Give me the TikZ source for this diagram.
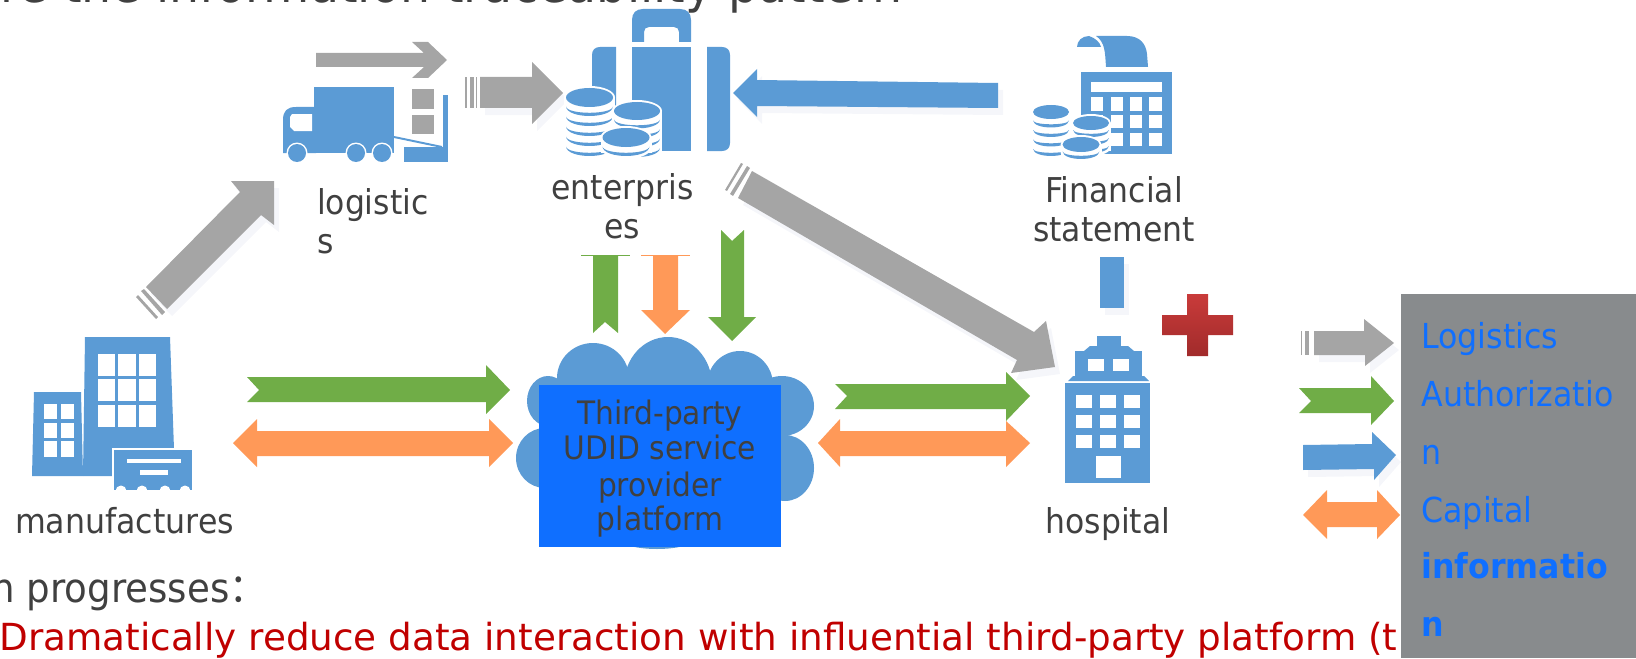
\documentclass[tikz,border=0pt]{standalone}
\usepackage{fontspec}
\setmainfont[FakeStretch=0.92]{DejaVu Sans}
\newfontfamily\plainface{DejaVu Sans}
\newfontfamily\cjkface[FakeStretch=0.92]{Noto Sans CJK SC}
\definecolor{iconblue}{HTML}{5B9BD5}
\definecolor{arrgrey}{HTML}{A5A5A5}
\definecolor{arrgreen}{HTML}{70AD47}
\definecolor{arrorange}{HTML}{FF9958}
\definecolor{boxblue}{HTML}{0F6FFF}
\definecolor{panelgrey}{HTML}{888B8D}
\definecolor{txtgrey}{HTML}{404040}
\definecolor{txtred}{HTML}{C00000}
\definecolor{crosstop}{HTML}{C93B3A}
\definecolor{crossbot}{HTML}{A12B2B}
\definecolor{softshadow}{HTML}{F5F6FA}
\tikzset{
  lbl/.style={inner sep=0pt,outer sep=0pt,text=txtgrey,font=\fontsize{17.1}{20}\selectfont},
  lblw/.style={lbl,anchor=base west},
  lblc/.style={lbl,anchor=base},
  platf/.style={lblc,font=\fontsize{16.15}{20}\selectfont},
  legendtxt/.style={inner sep=0pt,anchor=base west,text=boxblue,font=\fontsize{17.2}{20}\selectfont},
  bodytxt/.style={inner sep=0pt,anchor=base west,font=\fontsize{20.2}{22}\selectfont},
}
\newcommand{\blk}[2]{\fill[softshadow,shift={(5,7)}] #2; \fill[#1] #2;}
\newcommand{\coinstack}[6]{%
  \fill[white] ({#1-#3-2},{#2}) rectangle ({#1+#3+2},{#2+#5*#6+#4*0.6});
  \fill[white] (#1,#2) ellipse [x radius=#3+2,y radius=#4+2];
  \fill[white] (#1,{#2+#5*#6}) ellipse [x radius=#3+2,y radius=#4+2];
  \fill[iconblue] (#1,#2) ellipse [x radius=#3,y radius=#4];
  \foreach \k in {1,...,#5}{%
    \pgfmathsetmacro{\yy}{#2+\k*#6-1}%
    \pgfmathsetmacro{\oo}{\yy+#4*1.33}%
    \pgfmathsetmacro{\ii}{\yy+(#4-3.2)*1.33}%
    \fill[iconblue] ({#1-#3},\yy) .. controls ({#1-#3+1},\oo) and ({#1+#3-1},\oo) .. ({#1+#3},\yy)
       .. controls ({#1+#3-1},\ii) and ({#1-#3+1},\ii) .. cycle;
  }%
}
\begin{document}
\begin{tikzpicture}[x=0.5pt,y=-0.5pt]
\useasboundingbox (0,0) rectangle (1636,658);
\clip (0,0) rectangle (1636,658);

% clipped slide text
\node[bodytxt,text=txtgrey,font=\fontsize{25.8}{28}\selectfont] (title) at (0,3) {re the information traceability pattern};
\node[bodytxt,text=txtgrey] (prog) at (-9,602) {n progresses{\cjkface ：}};
\node[bodytxt,text=txtred,font=\fontsize{18.65}{22}\selectfont\plainface] (redline) at (-1,650) {Dramatically reduce data interaction with influential third-party platform (t};

% legend panel
\fill[panelgrey] (1401,294) rectangle (1636,658);
\node[legendtxt] (lg1) at (1421,348) {Logistics};
\node[legendtxt] (lg2) at (1421,406) {Authorizatio};
\node[legendtxt] (lg3) at (1421,464) {n};
\node[legendtxt] (lg4) at (1421,522) {Capital};
\node[legendtxt,font=\fontsize{17.2}{20}\selectfont\bfseries] (lg5) at (1421,578) {informatio};
\node[legendtxt,font=\fontsize{17.2}{20}\selectfont\bfseries] (lg6) at (1421,636) {n};

% grey arrow manufactures -> logistics
\blk{arrgrey}{(274,181)--(231,181)--(240,192)--(146,287)--(167,309)--(261,215)--(274,225)--cycle}
\fill[arrgrey] (141,291)--(144,289)--(165,312)--(162,315)--cycle;
\fill[arrgrey] (136,297)--(138,295)--(158,317)--(156,319)--cycle;

% small grey arrow over truck
\fill[arrgrey] (316,53)--(424,53)--(412,42)--(428,42)--(447,60)--(428,78)--(412,78)--(424,67)--(316,67)--cycle;

% truck
\fill[iconblue] (314,87) rectangle (394,153);
\fill[iconblue] (316,107)--(296,107) .. controls (287,107) and (283,111) .. (283,120)--(283,153)--(316,153)--cycle;
\fill[white] (292,114)--(312,114)--(312,131)--(294,131)--(290,127)--(290,117)--cycle;
\foreach \wx in {297,356,382}{
  \fill[white] (\wx,153) circle [radius=10.5];
  \fill[iconblue] (\wx,153) circle [radius=9];
}
\fill[arrgrey] (412,89) rectangle (434,109);
\fill[arrgrey] (412,115) rectangle (434,134);
\fill[iconblue] (443,95) rectangle (448,162);
\fill[iconblue] (404,147) rectangle (448,162);
\fill[iconblue] (394,136)--(442,146)--(442,148)--(394,138)--cycle;

% grey arrow logistics -> enterprises
\blk{arrgrey}{(480,77)--(532,77)--(532,62)--(563,93)--(532,124)--(532,108)--(480,108)--cycle}
\fill[arrgrey] (465,77) rectangle (467,108);
\fill[arrgrey] (470,77) rectangle (474,108);
\fill[arrgrey] (476,77) rectangle (477,108);

% suitcase
\fill[iconblue] (632,42)--(632,20) .. controls (632,13) and (636,9) .. (643,9)--(680,9) .. controls (687,9) and (691,13) .. (691,20)--(691,42)--(679,42)--(679,32) .. controls (679,29) and (677,27) .. (674,27)--(649,27) .. controls (646,27) and (644,29) .. (644,32)--(644,42)--cycle;
\fill[iconblue] (616,47)--(600,47) .. controls (595,47) and (592,50) .. (592,55)--(592,143) .. controls (592,148) and (595,151) .. (600,151)--(616,151)--cycle;
\fill[iconblue] (632,47) rectangle (691,151);
\fill[iconblue] (707,47)--(722,47) .. controls (727,47) and (730,50) .. (730,55)--(730,143) .. controls (730,148) and (727,151) .. (722,151)--(707,151)--cycle;
\coinstack{589.5}{97.5}{23.5}{9.5}{5}{10}
\coinstack{637}{111}{23}{9}{4}{9.5}
\coinstack{626}{137.5}{23.5}{9.5}{1}{10}

% blue arrow financial -> enterprises
\blk{iconblue}{(733,93)--(757,69)--(757,80)--(998,83)--(998,108)--(757,106)--(757,117)--cycle}

% financial icon
\fill[iconblue] (1096,36)--(1127,36) .. controls (1140,36) and (1146,44) .. (1147,54)--(1148,67)--(1106,67) .. controls (1105,52) and (1105,42) .. (1096,36)--cycle;
\fill[iconblue] (1077,47) .. controls (1077,41) and (1082,36) .. (1089,36) .. controls (1095,38) and (1100,42) .. (1101,47)--cycle;
\fill[iconblue] (1081,72) rectangle (1172,154);
\fill[white] (1091,82) rectangle (1162,92);
\foreach \bx/\bw in {1091/12,1111/12,1130/12,1149/13}{
  \foreach \by/\bh in {97/14,115/13,133/13}{
    \fill[white] (\bx,\by) rectangle ({\bx+\bw},{\by+\bh});
  }
}
\coinstack{1051}{112}{18}{7}{4}{9.5}
\coinstack{1091}{123}{18}{7}{3}{8}
\coinstack{1081}{144.5}{18.5}{7.5}{1}{8}

% labels upper row
\node[lblw] (logl1) at (317,214) {logistic};
\node[lblw] (logl2) at (317,253) {s};
\node[lblc] (entl1) at (622.5,199) {enterpris};
\node[lblc] (entl2) at (622.5,238) {es};
\node[lblc] (finl1) at (1114,202) {Financial};
\node[lblc] (finl2) at (1114,241) {statement};

% grey big arrow enterprises -> hospital
\blk{arrgrey}{(752,171)--(1034,332)--(1046,321)--(1055,367)--(1011,373)--(1017,360)--(738,198)--cycle}
\fill[arrgrey] (725,190)--(741,163)--(743,164)--(727,191)--cycle;
\fill[arrgrey] (730,194)--(747,166)--(750,168)--(733,196)--cycle;

% blue bar + cross
\blk{iconblue}{(1100,257)--(1124,257)--(1124,308)--(1100,308)--cycle}
\shade[top color=crosstop,bottom color=crossbot] (1187,294)--(1208,294)--(1208,315)--(1233,315)--(1233,335)--(1208,335)--(1208,356)--(1187,356)--(1187,335)--(1162,335)--(1162,315)--(1187,315)--cycle;

% vertical arrows
\fill[arrgreen] (593,255)--(593,333)--(605,322)--(618,333)--(618,255)--cycle;
\fill[arrgreen] (581,254.5) rectangle (630,255.5);
\fill[arrorange] (653,255)--(653,310)--(641,310)--(665,334)--(690,310)--(678,310)--(678,255)--cycle;
\fill[arrorange] (641,254.5) rectangle (690,255.5);
\fill[arrgreen] (721,230)--(732,241)--(744,230)--(744,317)--(756,317)--(732,341)--(708,317)--(721,317)--cycle;

% manufactures icon
\fill[iconblue] (85,337)--(170,337)--(174,449)--(174,476)--(83,476)--cycle;
\foreach \mx/\mw in {98/17,118/18,139/17}{
  \foreach \my/\mh in {354/22,379/22,405/22}{
    \fill[white] (\mx,\my) rectangle ({\mx+\mw},{\my+\mh});
  }
}
\fill[iconblue] (34,392)--(81,392)--(83,476)--(32,476)--cycle;
\foreach \mx in {44,61}{
  \foreach \my/\mh in {404/15,423/15,441/16}{
    \fill[white] (\mx,\my) rectangle ({\mx+13},{\my+\mh});
  }
}
\fill[white] (112,448) rectangle (194,492);
\fill[iconblue] (114,450) rectangle (192,490);
\fill[white] (127,459) rectangle (181,463);
\fill[white] (140,470) rectangle (168,475);
\foreach \sx in {121,142,165,185}{
  \fill[white] (\sx,491) circle [radius=5.5];
}
\node[lblw,font=\fontsize{17.2}{20}\selectfont] (manl) at (15,533) {manufactures};

% horizontal arrows left
\fill[arrgreen] (247,377)--(486,377)--(486,365)--(510,390)--(486,414)--(486,402)--(247,402)--(259,390)--cycle;
\fill[arrorange] (233,443)--(257,419)--(257,431)--(489,431)--(489,419)--(513,443)--(489,467)--(489,456)--(257,456)--(257,467)--cycle;

% cloud
\fill[iconblue] (593,378) ellipse [x radius=36,y radius=35];
\fill[iconblue] (668,385) ellipse [x radius=44,y radius=48];
\fill[iconblue] (740,385) ellipse [x radius=33,y radius=34];
\fill[iconblue] (782,406) ellipse [x radius=32,y radius=30];
\fill[iconblue] (785,468) ellipse [x radius=29,y radius=33];
\fill[iconblue] (548,401) ellipse [x radius=21,y radius=25];
\fill[iconblue] (545,458) ellipse [x radius=29,y radius=30];
\fill[iconblue] (657,530) ellipse [x radius=50,y radius=19];
\fill[iconblue] (560,378) rectangle (775,530);
\fill[boxblue] (539,385) rectangle (781,547);
\node[platf] (pl1) at (660,424) {Third-party};
\node[platf] (pl2) at (660,459) {UDID service};
\node[platf] (pl3) at (660,496) {provider};
\node[platf] (pl4) at (660,530) {platform};

% horizontal arrows right
\fill[arrgreen] (835,384)--(1006,384)--(1006,372)--(1030,396)--(1006,421)--(1006,409)--(835,409)--(847,396)--cycle;
\fill[arrorange] (818,443)--(840,419)--(840,431)--(1006,431)--(1006,421)--(1030,443)--(1006,467)--(1006,456)--(840,456)--(840,467)--cycle;

% hospital icon
\fill[iconblue] (1097,336) rectangle (1121,347);
\fill[iconblue] (1090,346)--(1128,346)--(1134,351)--(1084,351)--cycle;
\fill[iconblue] (1075,351) rectangle (1142,376);
\fill[iconblue] (1073,376)--(1144,376)--(1149,381)--(1068,381)--cycle;
\fill[iconblue] (1065,383) rectangle (1150,483);
\fill[white] (1088,359) rectangle (1104,371);
\fill[white] (1113,359) rectangle (1129,371);
\foreach \hx in {1076,1100,1124}{
  \foreach \hy in {395,415,435}{
    \fill[white] (\hx,\hy) rectangle ({\hx+16},{\hy+13});
  }
}
\fill[white] (1096,456) rectangle (1121,478);
\node[lblw] (hosl) at (1045.5,533) {hospital};

% legend arrows
\blk{arrgrey}{(1314,331)--(1364,331)--(1364,319)--(1394,343)--(1365,366)--(1365,355)--(1314,355)--cycle}
\fill[arrgrey] (1300.5,331) rectangle (1302,355);
\fill[arrgrey] (1305,331) rectangle (1309,355);
\fill[arrgreen] (1299,388)--(1371,388)--(1371,376)--(1394,401)--(1371,425)--(1371,413)--(1299,413)--(1311,401)--cycle;
\blk{iconblue}{(1303,445)--(1372,444)--(1372,432)--(1396,455)--(1374,480)--(1374,469)--(1303,470)--cycle}
\fill[arrorange] (1303,515)--(1327,490)--(1327,502)--(1377,502)--(1377,490)--(1400,515)--(1377,539)--(1377,527)--(1327,527)--(1327,539)--cycle;
\end{tikzpicture}
\end{document}
